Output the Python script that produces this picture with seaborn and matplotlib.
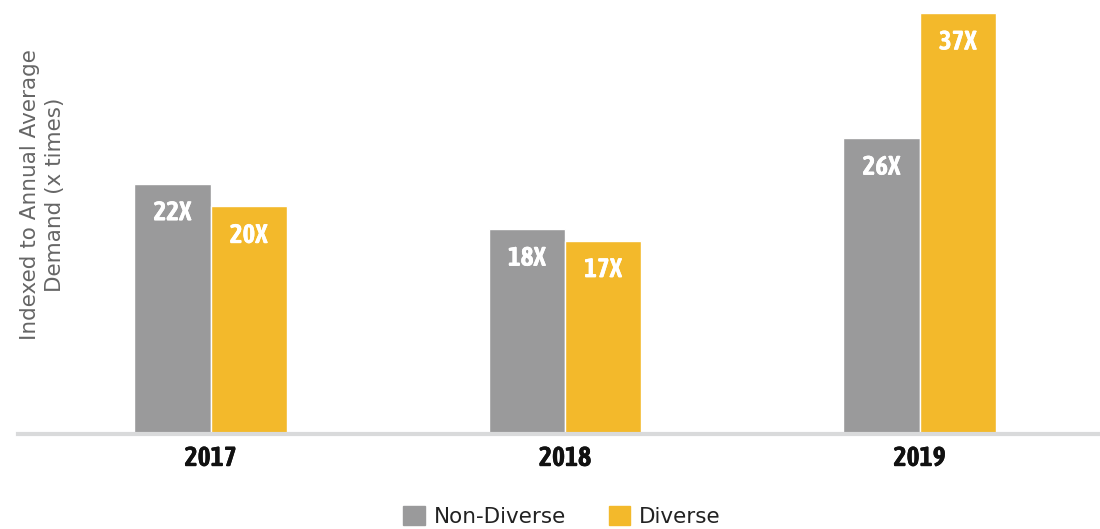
import pandas as pd
import matplotlib.pyplot as plt
import matplotlib.patheffects as pe
import seaborn as sns
from matplotlib import font_manager

# Chart data
years = ["2017", "2018", "2019"]
non_diverse = [22, 18, 26]
diverse = [20, 17, 37]
series_names = ["Non-Diverse", "Diverse"]
colors = ["#9a9a9b", "#f3b92b"]

df = pd.DataFrame({
    "year": years * 2,
    "value": non_diverse + diverse,
    "series": [series_names[0]] * 3 + [series_names[1]] * 3,
})

sns.set_style("white")
plt.rcParams["font.family"] = ["DejaVu Sans"]

# pick a narrow face if one is around, bold one preferred
fonts = [f for f in font_manager.fontManager.ttflist
         if "Narrow" in f.name or "Condensed" in f.name]
bold = [f.name for f in fonts if f.weight in ("bold", 700, 800, 900)]
pick = bold[:1] or [f.name for f in fonts][:1]
cond = pick + ["DejaVu Sans"]
thick = not bold  # fake the weight with a stroke if no bold face


def fx(color):
    return [pe.withStroke(linewidth=1.3 if thick else 0, foreground=color)]


fig = plt.figure(figsize=(11, 5.29), dpi=100)
ax = fig.add_axes([0.0164, 0.1796, 0.9836, 0.7958])

sns.barplot(data=df, x="year", y="value", hue="series", palette=colors,
            width=0.43, saturation=1, edgecolor="white", linewidth=1,
            ax=ax, legend=False)

ax.set_xlim(-0.543, 2.509)
ax.set_ylim(0, 37)

# value labels inside bars
for cont in ax.containers:
    for bar in cont:
        h = bar.get_height()
        ax.annotate(f"{h:.0f}X", (bar.get_x() + bar.get_width() / 2, h),
                    xytext=(0, -21), textcoords="offset points",
                    ha="center", va="center", color="white",
                    fontsize=19.5, fontweight="bold", family=cond,
                    path_effects=fx("white"))

sns.despine(ax=ax, left=True)
ax.spines["bottom"].set_color("#d9dadb")
ax.spines["bottom"].set_linewidth(3)
ax.set_yticks([])
ax.tick_params(axis="x", length=0, pad=8)
for lbl in ax.get_xticklabels():
    lbl.set_fontfamily(cond)
    lbl.set_fontweight("bold")
    lbl.set_fontsize(20)
    lbl.set_color("#111111")
    lbl.set_path_effects(fx("#111111"))
ax.set_xlabel("")
ax.set_ylabel("")

fig.text(0.039, 0.632, "Indexed to Annual Average\nDemand (x times)",
         rotation=90, ha="center", va="center", fontsize=15.5,
         color="#666666", linespacing=1.3)

handles = [plt.Rectangle((0, 0), 1, 1, color=c) for c in colors]
fig.legend(handles, series_names, loc="lower center", ncol=2,
           bbox_to_anchor=(0.511, -0.032), frameon=False, fontsize=15.5,
           handlelength=1.0, handleheight=1.0, columnspacing=2.0,
           handletextpad=0.4, labelcolor="#222222")

fig.savefig("out.png", dpi=100)
